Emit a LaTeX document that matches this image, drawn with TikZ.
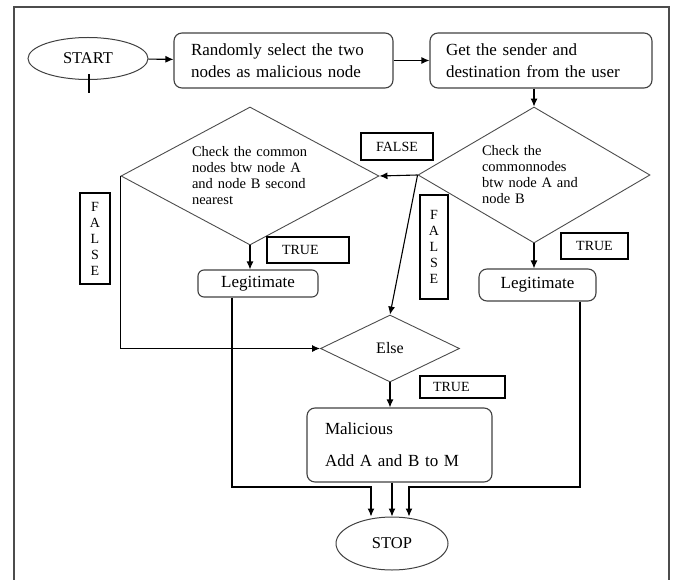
\documentclass[tikz,border=0pt]{standalone}
\usepackage{fontspec}
\setmainfont{Liberation Serif}
\usetikzlibrary{shapes.geometric,arrows.meta}
\tikzset{
  stepbox/.style={draw=black!75, rounded corners=8pt, line width=1.1pt, align=left, font=\fontsize{17}{22}\selectfont},
  decide/.style={diamond, draw=black!70, line width=0.9pt, inner sep=0pt, align=left, font=\fontsize{14.5}{16}\selectfont},
  term/.style={ellipse, draw=black!75, line width=1pt, font=\fontsize{16.5}{18}\selectfont},
  tag/.style={draw, line width=1.1pt, inner sep=0pt, align=center, font=\fontsize{14}{16}\selectfont},
  link/.style={line width=1.1pt, -{Latex[length=8pt,width=7pt]}},
}
\begin{document}
\begin{tikzpicture}[x=1pt, y=-1pt]
\useasboundingbox (0,0) rectangle (679,580);
\draw[line width=1.5pt, black!70] (14,580) -- (14,7) -- (669,7) -- (669,580);
\node[term, minimum width=120, minimum height=42] (start) at (88,58.5) {START};
\node[stepbox, minimum width=219, minimum height=55, text width=185] (sel) at (283.5,60.5) {Randomly select the two\\nodes as malicious node};
\node[stepbox, minimum width=222, minimum height=55, text width=190] (get) at (541,60.5) {Get the sender and\\destination from the user};
\node[decide, minimum width=258, minimum height=138, aspect=1.9, text width=116] (chk1) at (250,176) {Check the common\\nodes btw node A\\and node B second\\nearest};
\node[decide, minimum width=232, minimum height=136, aspect=1.7, text width=104] (chk2) at (534,175) {Check the\\commonnodes\\btw node A and\\node B};
\node[decide, minimum width=139, minimum height=67, font=\fontsize{16}{18}\selectfont] (else) at (390,348.5) {Else};
\node[stepbox, minimum width=120, minimum height=27, rounded corners=6pt] (leg1) at (258,283.5) {Legitimate};
\node[stepbox, minimum width=117, minimum height=32] (leg2) at (537.5,285) {Legitimate};
\node[stepbox, minimum width=185, minimum height=74, text width=149, inner xsep=18pt] (mal) at (399.5,445) {Malicious\\[10pt]Add A and B to M};
\node[term, minimum width=112, minimum height=53] (stop) at (392,543.5) {STOP};
\node[tag, minimum width=72, minimum height=27] (f0) at (397,146.5) {FALSE};
\node[tag, minimum width=30, minimum height=91] (f1) at (95,238.5) {F\\A\\L\\S\\E};
\node[tag, minimum width=28, minimum height=104] (f2) at (434,247) {F\\A\\L\\S\\E};
\node[tag, minimum width=82, minimum height=26, text width=52, inner xsep=15pt, align=left] (t1) at (308,250) {TRUE};
\node[tag, minimum width=67, minimum height=26] (t2) at (594.5,246) {TRUE};
\node[tag, minimum width=85, minimum height=22, text width=59, inner xsep=13pt, align=left] (t3) at (462.5,387) {TRUE};
\coordinate (tick) at (89,93);
\coordinate (j1) at (371,487);
\coordinate (j2) at (409,487);
\draw[line width=1.6pt] (tick) -- ++(0,-19);
\draw[link] (start) -- (sel);
\draw[link] (sel) -- (get);
\draw[link] (chk2.north |- get.south) -- (chk2.north);
\draw[link] (chk2.west) -- (chk1.east);
\draw[link] (chk2.west) -- (else.north);
\draw[link] (chk1.south) -- (chk1.south |- leg1.north);
\draw[link] (chk2.south) -- (chk2.south |- leg2.north);
\draw[link] (chk1.west) |- (else.west);
\draw[link] (else.south) -- (else.south |- mal.north);
\draw[link] ([xshift=-26pt]leg1.south) |- (j1) -- (j1 |- stop.north);
\draw[link] ([xshift=42.5pt]leg2.south) |- (j2) -- (j2 |- stop.north);
\draw[link] (stop.north |- mal.south) -- (stop.north);
\end{tikzpicture}
\end{document}
